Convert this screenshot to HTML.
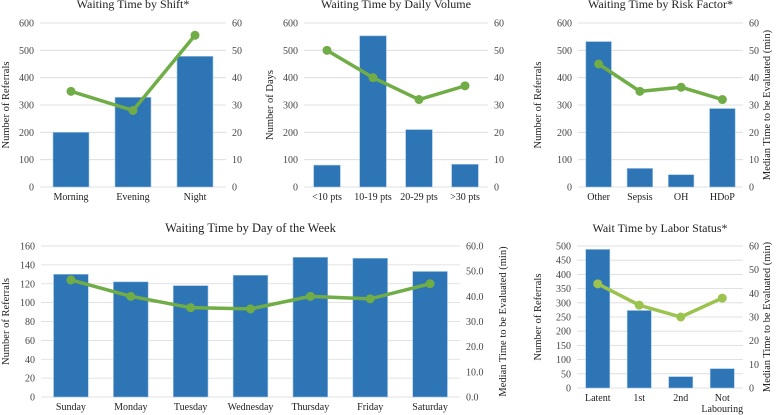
<!DOCTYPE html>
<html><head><meta charset="utf-8"><style>
html,body{margin:0;padding:0;background:#fff;}
svg{display:block;}
svg text{font-family:"Liberation Serif","DejaVu Serif",serif;}
</style></head><body>
<svg id="chart" width="777" height="415" viewBox="0 0 777 415" font-family="Liberation Serif, serif"></svg>
<script>
const shiftCats=["Morning","Evening","Night"];
const shiftBars=[200,328,478];
const shiftLine=[35,28,55.5];
const volCats=["<10 pts","10-19 pts","20-29 pts",">30 pts"];
const volBars=[80,553,210,83];
const volLine=[50,40,32,37];
const riskCats=["Other","Sepsis","OH","HDoP"];
const riskBars=[532,68,45,287];
const riskLine=[45,35,36.5,32];
const dayCats=["Sunday","Monday","Tuesday","Wednesday","Thursday","Friday","Saturday"];
const dayBars=[130,122,118,129,148,147,133];
const dayLine=[46.5,40,35.5,35,40,39,45];
const laborCats=["Latent","1st","2nd","Not|Labouring"];
const laborBars=[488,273,40,68];
const laborLine=[44,35,30,38];
const ticks600=[0,100,200,300,400,500,600];
const ticks60=[0,10,20,30,40,50,60];
const ticks160=[0,20,40,60,80,100,120,140,160];
const ticks60f=["0.0","10.0","20.0","30.0","40.0","50.0","60.0"];
const ticks500=[0,50,100,150,200,250,300,350,400,450,500];

const NS="http://www.w3.org/2000/svg";
const svg=document.getElementById('chart');
const FF='"Liberation Serif", "DejaVu Serif", serif';
function mk(tag,attrs,parent,text){const e=document.createElementNS(NS,tag);for(const k in attrs)e.setAttribute(k,attrs[k]);if(tag==='text'){e.setAttribute('font-family',FF);e.style.fontFamily=FF;}if(text!==undefined)e.textContent=text;(parent||svg).appendChild(e);return e;}

function panel(o){
  const g=mk('g',{});
  
  
  const yL=v=>o.y0-(v/o.lmax)*(o.y0-o.y1);
  const yR=v=>o.y0-(v/o.rmax)*(o.y0-o.y1);
  const step=(o.x1-o.x0)/o.cats.length;
  const xc=i=>o.x0+step*(i+0.5);
  const t=mk('text',{x:(o.x0+o.x1)/2,y:o.ty,'text-anchor':'middle','font-size':o.tfs||12,fill:'#222'},g,o.title);
  
  
  o.lt.forEach(v=>{
    const gl=mk('line',{x1:o.x0,x2:o.x1,y1:yL(v),y2:yL(v),stroke:'#d9d9d9','stroke-width':0.8},g);
    
    
    const tl=mk('text',{x:o.x0-6,y:yL(v)+3.5,'text-anchor':'end','font-size':10,fill:'#444'},g,String(v));
    
    
  });
  o.rt.forEach((v,i)=>{
    const val=o.rv?o.rv[i]:v;
    const tr=mk('text',{x:o.x1+6,y:yR(val)+3.5,'font-size':10,fill:'#444'},g,String(v));
    
    
  });
  const my=(o.y0+o.y1)/2;
  const la=mk('text',{x:o.lax,y:my,'text-anchor':'middle','font-size':10.5,fill:'#222',transform:`rotate(-90 ${o.lax} ${my})`},g,o.ltitle);
  
  
  if(o.rtitle){
    const ra=mk('text',{x:o.rax,y:my,'text-anchor':'middle','font-size':10.5,fill:'#222',transform:`rotate(-90 ${o.rax} ${my})`},g,o.rtitle);
    
    
  }
  const bw=step*o.bwf;
  o.bars.forEach((v,i)=>{
    const r=mk('rect',{x:xc(i)-bw/2,y:yL(v),width:bw,height:o.y0-yL(v),fill:'#2e75b6',stroke:'#9dc3e6','stroke-width':0.6},g);
    
    
  });
  o.cats.forEach((c,i)=>{
    const parts=c.split('|');
    parts.forEach((p,j)=>{
      const cl=mk('text',{x:xc(i),y:o.y0+13+j*11,'text-anchor':'middle','font-size':10,fill:'#222'},g,p);
      
      
    });
  });
  const pts=o.line.map((v,i)=>xc(i)+','+yR(v)).join(' ');
  const pl=mk('polyline',{points:pts,fill:'none',stroke:o.lc,'stroke-width':3.5,'stroke-linejoin':'round'},g);
  
  
  o.line.forEach((v,i)=>{
    const c=mk('circle',{cx:xc(i),cy:yR(v),r:4.5,fill:o.lc},g);
    
    
  });
}
panel({name:'shift-chart',title:'Waiting Time by Shift*',ty:8,x0:40,x1:226,y0:187,y1:23,lmax:600,rmax:60,lt:ticks600,rt:ticks60,cats:shiftCats,bars:shiftBars,line:shiftLine,bwf:0.58,lax:9,ltitle:'Number of Referrals',lc:'#70ad47'});
panel({name:'volume-chart',title:'Waiting Time by Daily Volume',ty:8,x0:304,x1:488,y0:187,y1:23,lmax:600,rmax:60,lt:ticks600,rt:ticks60,cats:volCats,bars:volBars,line:volLine,bwf:0.58,lax:273,ltitle:'Number of Days',lc:'#70ad47'});
panel({name:'risk-chart',title:'Waiting Time by Risk Factor*',ty:8,x0:578,x1:743,y0:187,y1:23,lmax:600,rmax:60,lt:ticks600,rt:ticks60,cats:riskCats,bars:riskBars,line:riskLine,bwf:0.62,lax:541,ltitle:'Number of Referrals',rax:770,rtitle:'Median Time to be Evaluated (min)',lc:'#70ad47'});
panel({name:'day-chart',title:'Waiting Time by Day of the Week',ty:232,tfs:12.5,x0:41,x1:460,y0:397,y1:246,lmax:160,rmax:60,lt:ticks160,rt:ticks60f,rv:ticks60,cats:dayCats,bars:dayBars,line:dayLine,bwf:0.58,lax:9,ltitle:'Number of Referrals',rax:506,rtitle:'Median Time to be Evaluated (min)',lc:'#70ad47'});
panel({name:'labor-chart',title:'Wait Time by Labor Status*',ty:232,x0:577,x1:743,y0:388,y1:246,lmax:500,rmax:60,lt:ticks500,rt:ticks60,cats:laborCats,bars:laborBars,line:laborLine,bwf:0.58,lax:541,ltitle:'Number of Referrals',rax:770,rtitle:'Median Time to be Evaluated (min)',lc:'#9bc34e'});
</script>
</body></html>
